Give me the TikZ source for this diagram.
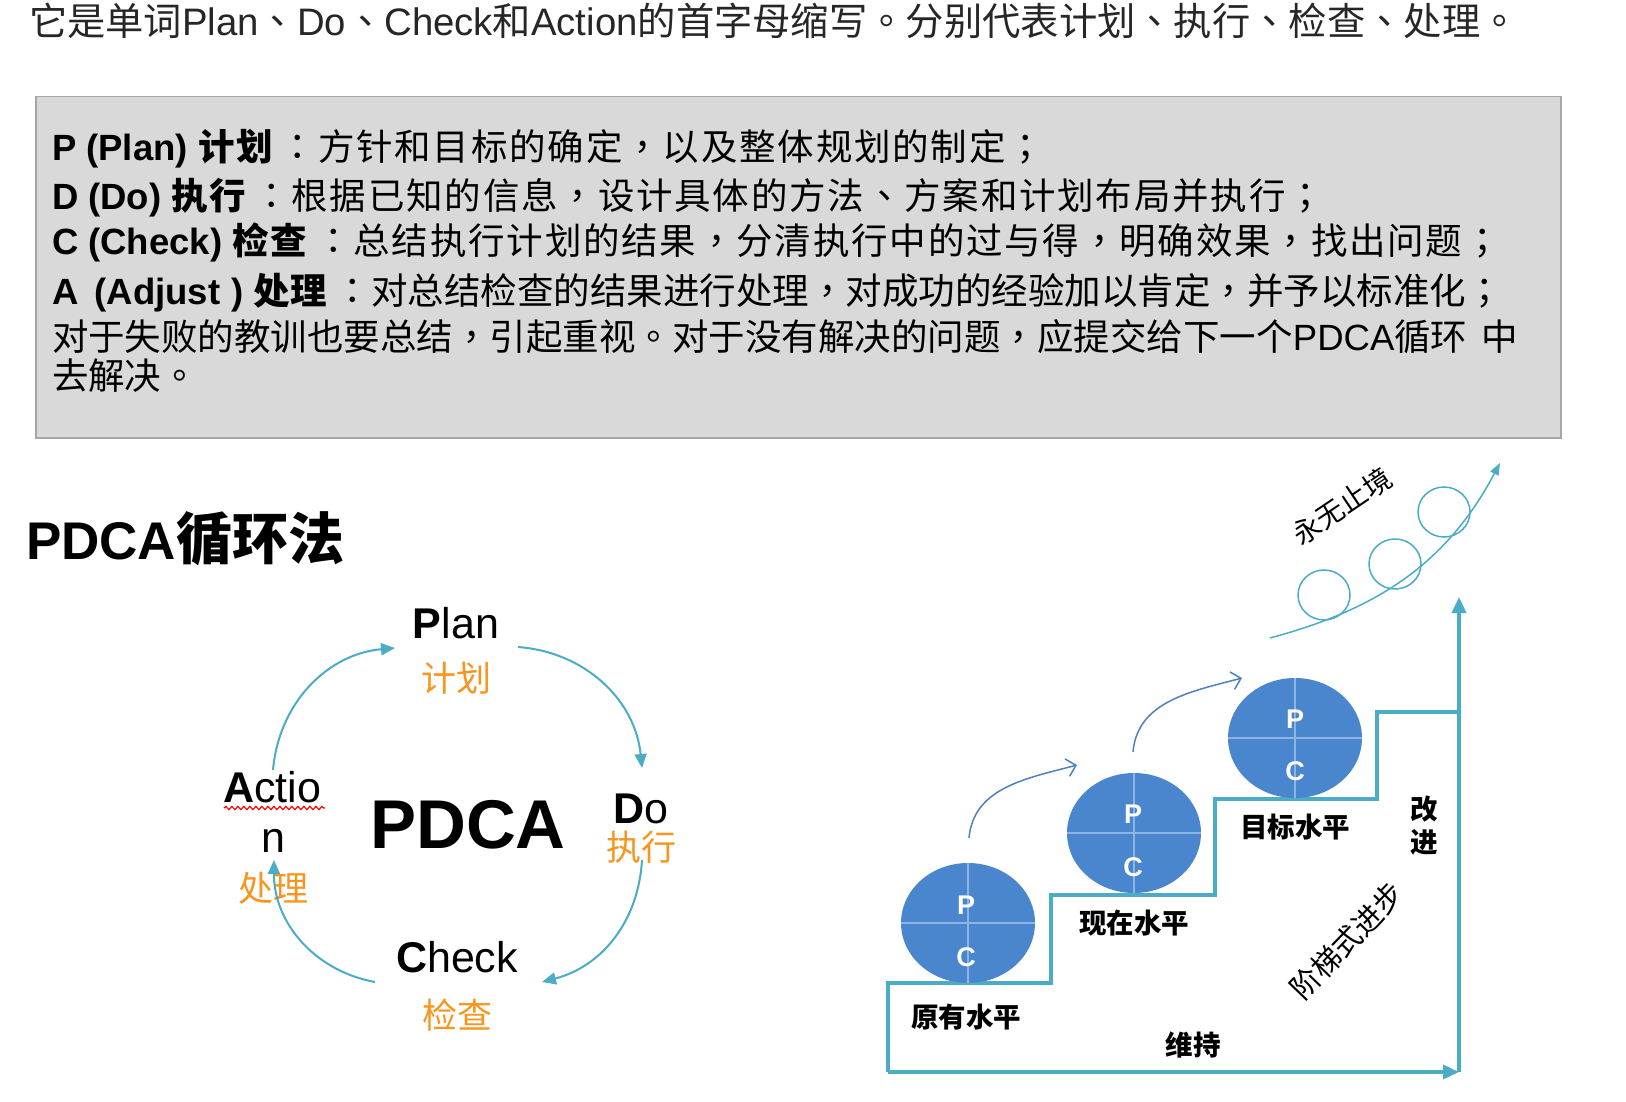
\documentclass[tikz,border=0pt]{standalone}
\usepackage{fontspec}
\setmainfont{Liberation Sans}
\newfontfamily\cjkfam{Noto Sans CJK SC}
\newfontfamily\cjkpun{Noto Sans CJK TC}
\usetikzlibrary{arrows.meta,decorations.pathmorphing,shapes.geometric}
\XeTeXinterchartokenstate=1
\newXeTeXintercharclass\CJKcls
\newXeTeXintercharclass\PUNcls
\newcount\cjkcnt
\newdimen\cjktrack
\cjktrack=0pt
\newcommand\trk{\cjktrack=1.8pt\relax}
\def\setclsrange#1#2#3{\cjkcnt=#1\relax
  \loop\XeTeXcharclass\cjkcnt=#3\relax
  \ifnum\cjkcnt<#2\relax\advance\cjkcnt by 1\relax\repeat}
\setclsrange{"3000}{"303F}{\PUNcls}
\setclsrange{"FF00}{"FFEF}{\PUNcls}
\setclsrange{"4E00}{"9FFF}{\CJKcls}
\XeTeXinterchartoks 0 \CJKcls = {\cjkfam}
\XeTeXinterchartoks 4095 \CJKcls = {\cjkfam}
\XeTeXinterchartoks \CJKcls 0 = {\rmfamily}
\XeTeXinterchartoks \CJKcls 4095 = {\rmfamily}
\XeTeXinterchartoks 0 \PUNcls = {\cjkpun}
\XeTeXinterchartoks 4095 \PUNcls = {\cjkpun}
\XeTeXinterchartoks \PUNcls 0 = {\rmfamily}
\XeTeXinterchartoks \PUNcls 4095 = {\rmfamily}
\XeTeXinterchartoks \CJKcls \PUNcls = {\kern\cjktrack\relax\cjkpun}
\XeTeXinterchartoks \PUNcls \CJKcls = {\kern\cjktrack\relax\cjkfam}
\XeTeXinterchartoks \CJKcls \CJKcls = {\kern\cjktrack\relax}
\XeTeXinterchartoks \PUNcls \PUNcls = {\kern\cjktrack\relax}
\newcommand\myfs[1]{\fontsize{#1}{#1}\selectfont}
\definecolor{teal1}{RGB}{75,172,198}
\definecolor{orange1}{RGB}{247,150,30}
\definecolor{ballblue}{RGB}{74,134,206}
\definecolor{balllight}{RGB}{141,180,226}
\definecolor{arrowblue}{RGB}{79,129,189}
\definecolor{boxfill}{RGB}{217,217,217}
\definecolor{boxline}{RGB}{166,166,166}
\tikzset{
  lbl/.style={inner sep=0pt, outer sep=0pt},
  boxtxt/.style={lbl, anchor=base west, font=\myfs{36.5}},
  zh/.style={lbl, font=\myfs{35}, text=orange1},
  en/.style={lbl, anchor=base, font=\myfs{43}},
  cyc/.style={draw=teal1, line width=2pt, -{Triangle[length=14pt,width=12pt]}},
  stair/.style={draw=teal1, line width=3.5pt},
  stairarrow/.style={stair, -{Triangle[length=16pt,width=14pt]}},
  ball/.style={ellipse, fill=ballblue, minimum width=134pt, minimum height=120pt, inner sep=0pt},
  ballline/.style={draw=balllight, line width=2pt},
  balltxt/.style={lbl, text=white, font=\bfseries\myfs{27}},
  lvl/.style={lbl, font=\bfseries\myfs{27.5}},
  upar/.style={draw=arrowblue, line width=1.5pt, -{Straight Barb[length=9pt,width=18pt]}},
  bubble/.style={draw=teal1, line width=1.5pt},
  squig/.style={draw=red, line width=1.2pt, decorate, decoration={snake, amplitude=1.6pt, segment length=6pt}}
}
\begin{document}
\begin{tikzpicture}[x=1pt,y=1pt]
\useasboundingbox (0,0) rectangle (1626,-1102);
\fill[white] (0,0) rectangle (1626,-1102);

% intro line
\node[lbl, anchor=base west, font=\myfs{38.3}, text=black!85] (intro) at (29,-36)
  {它是单词Plan、Do、Check和Action的首字母缩写。分别代表计划、执行、检查、处理。};

% grey box
\node[draw=boxline, fill=boxfill, line width=1.5pt, anchor=north west,
      minimum width=1525pt, minimum height=341pt, inner sep=0pt] (box) at (35,-96) {};
\node[boxtxt] (lp) at (52,-161) {\trk\textbf{P (Plan) 计划}\hspace{7pt}：方针和目标的确定，以及整体规划的制定；};
\node[boxtxt] (ld) at (52,-210) {\trk\textbf{D (Do) 执行}\hspace{7pt}：根据已知的信息，设计具体的方法、方案和计划布局并执行；};
\node[boxtxt] (lc) at (52,-255) {\trk\textbf{C (Check) 检查}\hspace{8pt}：总结执行计划的结果，分清执行中的过与得，明确效果，找出问题；};
\node[boxtxt] (la) at (52,-305) {\textbf{A\hspace{0.45em}(Adjust\hspace{0.3em}) 处理}\hspace{8pt}：对总结检查的结果进行处理，对成功的经验加以肯定，并予以标准化；};
\node[boxtxt] (la2) at (52,-350) {对于失败的教训也要总结，引起重视。对于没有解决的问题，应提交给下一个PDCA循环\hspace{14pt}中};
\node[boxtxt] (la3) at (52,-389) {去解决。};

% title
\node[lbl, anchor=base west, font=\bfseries\myfs{53}] (title) at (26,-559) {PDCA{\myfs{56}循环法}};

% PDCA cycle
\node[en] (plan) at (456,-638) {\textbf{P}lan};
\node[zh] (planzh) at (456,-678) {计划};
\node[en] (do) at (641,-823) {\textbf{D}o};
\node[zh] (dozh) at (641,-847) {执行};
\node[en] (act1) at (272,-802) {\textbf{A}ctio};
\node[en] (act2) at (273,-852) {n};
\node[zh] (actzh) at (273,-888) {处理};
\node[lbl, anchor=base, font=\bfseries\myfs{69}] (pdca) at (468,-848) {PDCA};
\node[en] (check) at (457,-972) {\textbf{C}heck};
\node[zh] (checkzh) at (457,-1015) {检查};
\coordinate (sq1) at (224,-808);
\coordinate (sq2) at (325,-808);
\draw[squig] (sq1) -- (sq2);

\coordinate (a1s) at (518,-647);  \coordinate (a1e) at (642,-768);
\coordinate (a2s) at (642,-860);  \coordinate (a2e) at (542,-982);
\coordinate (a3s) at (375,-982);  \coordinate (a3e) at (274,-860);
\coordinate (a4s) at (273,-770);  \coordinate (a4e) at (395,-648);
\draw[cyc] (a1s) to[bend left=40] (a1e);
\draw[cyc] (a2s) to[bend left=36] (a2e);
\draw[cyc] (a3s) to[bend left=40] (a3e);
\draw[cyc] (a4s) to[bend left=40] (a4e);

% staircase
\coordinate (o) at (888,-1072);
\coordinate (s1) at (888,-983);
\coordinate (s2) at (1051,-983);
\coordinate (s3) at (1051,-895);
\coordinate (s4) at (1215,-895);
\coordinate (s5) at (1215,-799);
\coordinate (s6) at (1377,-799);
\coordinate (s7) at (1377,-712);
\coordinate (s8) at (1459,-712);
\coordinate (br) at (1459,-1072);
\coordinate (top) at (1459,-597);
\draw[stair, line join=miter] (o) -- (s1) -- (s2) -- (s3) -- (s4) -- (s5) -- (s6) -- (s7) -- (s8);
\draw[stairarrow] (o) -- (br);
\draw[stairarrow] (br) -- (top);

% balls
\node[ball] (b1) at (968,-923) {};
\draw[ballline] (b1.north) -- (b1.south) (b1.west) -- (b1.east);
\node[balltxt] (b1p) at (966,-905) {P};
\node[balltxt] (b1c) at (966,-957) {C};
\node[ball] (b2) at (1134,-833) {};
\draw[ballline] (b2.north) -- (b2.south) (b2.west) -- (b2.east);
\node[balltxt] (b2p) at (1133,-814) {P};
\node[balltxt] (b2c) at (1133,-867) {C};
\node[ball] (b3) at (1295,-738) {};
\draw[ballline] (b3.north) -- (b3.south) (b3.west) -- (b3.east);
\node[balltxt] (b3p) at (1295,-719) {P};
\node[balltxt] (b3c) at (1295,-771) {C};

% level labels
\node[lvl] (l1) at (966,-1017) {原有水平};
\node[lvl] (l2) at (1134,-923) {现在水平};
\node[lvl] (l3) at (1295,-827) {目标水平};
\node[lvl, align=center, font=\bfseries\fontsize{27.5}{33}\selectfont] (gj) at (1424,-826) {改\\进};
\node[lvl] (wc) at (1193,-1045) {维持};
\node[lbl, font=\myfs{29.5}, rotate=46] (jt) at (1347,-941) {阶梯式进步};
\node[lbl, font=\myfs{28}, rotate=34] (yw) at (1342,-506) {永无止境};

% blue up arrows
\coordinate (u1s) at (969,-838);  \coordinate (u1e) at (1077,-765);
\coordinate (u2s) at (1133,-752); \coordinate (u2e) at (1242,-678);
\draw[upar] (u1s) to[out=85, in=195] (u1e);
\draw[upar] (u2s) to[out=85, in=195] (u2e);

% bubbles and rising curve
\node[bubble, ellipse, minimum width=52pt, minimum height=50pt, inner sep=0pt] (c1) at (1324,-595) {};
\node[bubble, ellipse, minimum width=52pt, minimum height=50pt, inner sep=0pt] (c2) at (1395,-564) {};
\node[bubble, ellipse, minimum width=52pt, minimum height=50pt, inner sep=0pt] (c3) at (1444,-512) {};
\coordinate (cvs) at (1270,-638);
\coordinate (cve) at (1500,-463);
\draw[bubble, -{Triangle[length=12pt,width=9pt]}] (cvs) to[out=15, in=242] (cve);
\end{tikzpicture}
\end{document}
